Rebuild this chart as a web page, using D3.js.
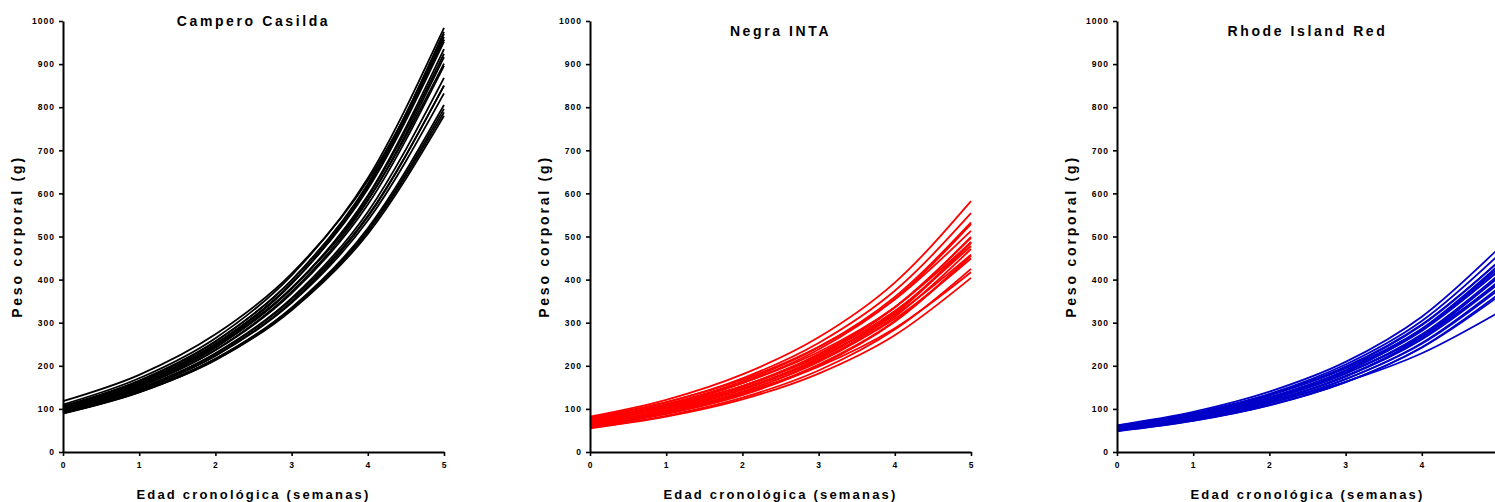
<!DOCTYPE html>
<html>
<head>
<meta charset="utf-8">
<script src="https://cdn.jsdelivr.net/npm/d3@7"></script>
<style>
  body { margin: 0; background: #fff; overflow: hidden; }
  svg { display: block; font-family: "Liberation Sans", Arial, sans-serif; }
  .tick text { font-size: 8.5px; font-weight: bold; letter-spacing: 1px; fill: #000; }
  .tick line { stroke: #000; stroke-width: 1.6px; }
  .domain { stroke: #000; stroke-width: 2px; }
</style>
</head>
<body>
<div id="chart"></div>
<script>
var weeks = [0, 1, 2, 3, 4, 5];
var yTicks = [0, 100, 200, 300, 400, 500, 600, 700, 800, 900, 1000];
var xTicks = [0, 1, 2, 3, 4, 5];

var titles = ["Campero Casilda", "Negra INTA", "Rhode Island Red"];
var colors = ["#000000", "#ff0000", "#0000c8"];

// body weight (g) per bird, at weeks 0..5
var camperoCurves = [
    [118, 179, 273, 414, 630, 957],
    [110, 171, 264, 410, 635, 984],
    [107, 166, 257, 398, 618, 957],
    [105, 164, 256, 399, 622, 970],
    [103, 161, 251, 391, 610, 952],
    [101, 159, 249, 391, 614, 963],
    [100, 156, 243, 380, 592, 924],
    [98, 154, 242, 379, 595, 935],
    [97, 151, 236, 368, 574, 896],
    [96, 151, 237, 372, 583, 916],
    [95, 147, 228, 354, 548, 850],
    [94, 147, 229, 357, 557, 868],
    [93, 144, 223, 346, 537, 832],
    [92, 144, 224, 349, 545, 850],
    [91, 140, 216, 332, 512, 788],
    [90, 140, 216, 335, 519, 805],
    [89, 138, 214, 331, 514, 796],
    [90, 139, 213, 329, 506, 780],
    [99, 156, 247, 390, 617, 975],
    [104, 160, 247, 380, 585, 901]
];

var negraCurves = [
    [82, 121, 180, 266, 393, 582],
    [78, 115, 171, 253, 374, 554],
    [75, 111, 164, 243, 360, 533],
    [80, 116, 168, 244, 354, 513],
    [72, 107, 160, 238, 355, 529],
    [70, 104, 153, 227, 336, 497],
    [76, 110, 160, 232, 336, 487],
    [68, 101, 151, 225, 335, 499],
    [66, 98, 147, 218, 325, 485],
    [74, 107, 153, 221, 318, 458],
    [64, 96, 144, 216, 324, 486],
    [62, 93, 140, 209, 314, 471],
    [70, 102, 147, 213, 309, 449],
    [60, 90, 135, 203, 304, 456],
    [58, 88, 132, 200, 302, 455],
    [56, 84, 126, 189, 284, 425],
    [65, 94, 137, 198, 287, 417],
    [55, 82, 122, 182, 271, 404],
    [72, 105, 153, 224, 327, 478],
    [60, 91, 139, 211, 320, 487]
];

var rhodeCurves = [
    [62, 93, 140, 209, 314, 471],
    [60, 89, 133, 198, 296, 441],
    [58, 87, 131, 196, 294, 440],
    [57, 85, 127, 189, 281, 419],
    [56, 84, 126, 189, 284, 425],
    [55, 82, 122, 182, 271, 404],
    [54, 81, 122, 182, 273, 410],
    [53, 79, 118, 175, 261, 389],
    [52, 78, 117, 176, 263, 395],
    [51, 76, 113, 169, 251, 375],
    [50, 75, 113, 169, 253, 380],
    [49, 73, 109, 162, 242, 360],
    [48, 72, 108, 162, 243, 365],
    [59, 86, 126, 184, 268, 391],
    [61, 90, 132, 194, 285, 419],
    [58, 82, 115, 163, 229, 323],
    [55, 83, 125, 189, 286, 432],
    [53, 81, 122, 186, 283, 430],
    [60, 90, 135, 203, 304, 456],
    [50, 76, 116, 176, 267, 406]
];

var panels = [camperoCurves, negraCurves, rhodeCurves];

var width = 1495, height = 502;
var plotW = 381, plotH = 431;
var panelLeft = [63, 590, 1117];
var plotTop = 21;

var svg = d3.select("#chart").append("svg")
    .attr("width", width)
    .attr("height", height);

var x = d3.scaleLinear().domain([0, 5]).range([0, plotW]);
var y = d3.scaleLinear().domain([0, 1000]).range([plotH, 0]);

var line = d3.line()
    .x(function (d, i) { return x(weeks[i]); })
    .y(function (d) { return y(d); })
    .curve(d3.curveMonotoneX);

panels.forEach(function (curves, p) {
    var g = svg.append("g")
        .attr("transform", "translate(" + panelLeft[p] + "," + plotTop + ")");

    // growth curves
    g.selectAll("path.curve")
        .data(curves)
        .enter()
        .append("path")
        .attr("class", "curve")
        .attr("d", line)
        .attr("fill", "none")
        .attr("stroke", colors[p])
        .attr("stroke-width", 1.8);

    // axes
    var xAxis = g.append("g")
        .attr("class", "x-axis")
        .attr("transform", "translate(0," + plotH + ")")
        .call(d3.axisBottom(x).tickValues(xTicks).tickFormat(d3.format("d"))
            .tickSize(4).tickSizeOuter(0).tickPadding(6));

    // the last panel runs past the page edge, so its "5" is not seen
    if (p === 2) {
        xAxis.selectAll(".tick text").filter(function (d) { return d === 5; }).remove();
    }

    g.append("g")
        .attr("class", "y-axis")
        .call(d3.axisLeft(y).tickValues(yTicks).tickFormat(d3.format("d"))
            .tickSize(4).tickSizeOuter(0).tickPadding(4));

    // panel title (first one sits a bit higher)
    g.append("text")
        .attr("x", plotW / 2)
        .attr("y", p === 0 ? 5 : 15)
        .style("text-anchor", "middle")
        .style("font-size", "14px")
        .style("font-weight", "bold")
        .style("letter-spacing", "2.6px")
        .text(titles[p]);

    // x axis title
    g.append("text")
        .attr("x", plotW / 2)
        .attr("y", plotH + 47)
        .style("text-anchor", "middle")
        .style("font-size", "13px")
        .style("font-weight", "bold")
        .style("letter-spacing", "2.2px")
        .text("Edad cronológica (semanas)");

    // y axis title
    g.append("text")
        .attr("transform", "rotate(-90)")
        .attr("x", -plotH / 2)
        .attr("y", -41)
        .style("text-anchor", "middle")
        .style("font-size", "14px")
        .style("font-weight", "bold")
        .style("letter-spacing", "2.8px")
        .text("Peso corporal (g)");
});
</script>
</body>
</html>
